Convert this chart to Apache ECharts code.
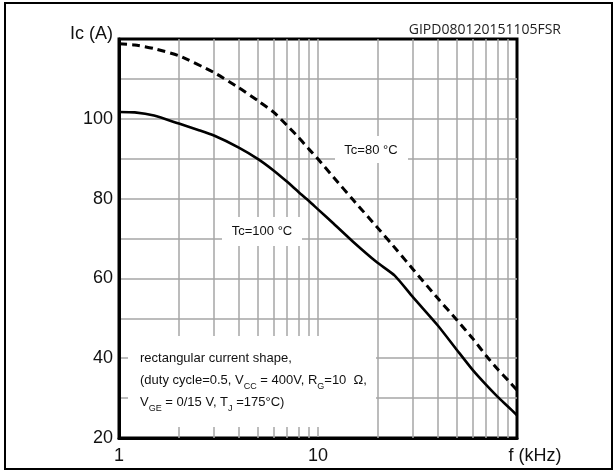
<!DOCTYPE html>
<html><head><meta charset="utf-8">
<script src="https://cdn.jsdelivr.net/npm/echarts@6/dist/echarts.min.js"></script>
<style>html,body{margin:0;padding:0;background:#fff}#c{width:614px;height:471px}</style>
</head><body><div id="c"></div>
<script>
// ---- data ----
const freqSolid = [1, 1.2, 1.5, 2, 2.5, 3, 4, 5, 6, 7, 8, 9, 10, 12, 15, 19.7, 24.3, 30, 40, 50, 60, 70, 80, 90, 100];
const icSolid   = [101.7, 101.6, 100.8, 98.8, 97.2, 95.8, 92.8, 89.9, 87, 84.2, 81.6, 79.4, 77.3, 73.7, 69.2, 64.1, 60.7, 55.3, 48.2, 42, 37, 33.3, 30.3, 27.9, 25.7];
const freqDashed = [1, 1.2, 1.5, 2, 3, 4, 5, 6, 7, 8, 9, 10, 12, 15, 20, 25, 30, 40, 50, 60, 70, 80, 90, 100];
const icDashed   = [118.8, 118.5, 117.6, 115.8, 111.6, 107.8, 104.5, 101.6, 98.3, 95.3, 92.4, 89.9, 85.3, 79.7, 72.6, 67.0, 62.3, 55.0, 49.5, 44.9, 40.6, 37.2, 34.5, 32];
const minorFreqs = [2, 3, 4, 5, 6, 7, 8, 9, 20, 30, 40, 50, 60, 70, 80, 90];
const xTickLabels = {1: '1', 10: '10', 100: 'f (kHz)'};
const yTickLabels = {20: '20', 40: '40', 60: '60', 80: '80', 100: '100', 120: 'Ic (A)'};
const seriesNames = ['Tc=100 °C', 'Tc=80 °C'];
const codeText = 'GIPD080120151105FSR';
const noteLines = ['rectangular current shape,', '(duty cycle=0.5, V', 'CC', ' = 400V, R', 'G', '=10  Ω,', 'V', 'GE', ' = 0/15 V, T', 'J', ' =175°C)'];

const FONT = "'Liberation Sans', Arial, sans-serif";
const GRID = '#a6a6a6';

const zip = (a, b) => a.map((v, i) => [v, b[i]]);

const chart = echarts.init(document.getElementById('c'), null, {renderer: 'canvas'});
chart.setOption({
  animation: false,
  backgroundColor: '#fff',
  title: {
    text: codeText, right: 48, top: 18,
    textStyle: {fontFamily: "'Open Sans', sans-serif", fontSize: 14, fontWeight: 'normal', color: '#222'}
  },
  grid: {left: 119, right: 97, top: 39, bottom: 33, show: true, borderColor: '#000', borderWidth: 3, backgroundColor: 'transparent'},
  xAxis: {
    type: 'log', logBase: 10, min: 1, max: 100,
    axisLine: {show: true, onZero: false, lineStyle: {color: '#000', width: 3}},
    axisTick: {show: false},
    axisLabel: {
      margin: 9, fontFamily: FONT, fontSize: 18, color: '#111',
      formatter: v => {
        const k = Math.round(v);
        if (k === 100) return '{r|' + xTickLabels[k] + '}';
        return xTickLabels[k] || '';
      },
      rich: {r: {fontFamily: FONT, fontSize: 18, color: '#111', padding: [0, 0, 0, 36]}}
    },
    splitLine: {show: true, showMinLine: false, showMaxLine: false, lineStyle: {color: GRID, width: 1.5}}
  },
  yAxis: {
    type: 'value', min: 20, max: 120, interval: 10,
    axisLine: {show: true, onZero: false, lineStyle: {color: '#000', width: 3}},
    axisTick: {show: false},
    axisLabel: {
      margin: 6, fontFamily: FONT, fontSize: 18, color: '#111',
      formatter: v => {
        if (v === 120) return '{n|' + yTickLabels[v] + '}';
        return yTickLabels[v] || '';
      },
      rich: {n: {fontFamily: FONT, fontSize: 18, color: '#111', padding: [0, 0, 10, 0]}}
    },
    splitLine: {show: true, showMinLine: false, showMaxLine: false, lineStyle: {color: GRID, width: 1.5}}
  },
  series: [
    {
      type: 'line', name: 'grid', data: [], z: 1, silent: true,
      markLine: {
        silent: true, symbol: ['none', 'none'], animation: false,
        label: {show: false},
        lineStyle: {color: GRID, width: 1.5, type: 'solid'},
        data: minorFreqs.map(f => ({xAxis: f}))
      }
    },
    {
      type: 'line', name: seriesNames[0], data: zip(freqSolid, icSolid), z: 5,
      showSymbol: false, smooth: 0.2,
      lineStyle: {color: '#000', width: 2.6}
    },
    {
      type: 'line', name: seriesNames[1], data: zip(freqDashed, icDashed), z: 5,
      showSymbol: false, smooth: 0.2,
      lineStyle: {color: '#000', width: 3, type: [8, 5], cap: 'butt'}
    }
  ],
  graphic: [
    {type: 'rect', zlevel: 1, z: 3, shape: {x: 335, y: 136, width: 73, height: 27}, style: {fill: '#fff'}},
    {type: 'text', zlevel: 1, z: 4, x: 371, y: 150, style: {text: seriesNames[1], fontFamily: FONT, fontSize: 13, fill: '#111', textAlign: 'center', textVerticalAlign: 'middle'}},
    {type: 'rect', zlevel: 1, z: 3, shape: {x: 222, y: 217, width: 80, height: 29}, style: {fill: '#fff'}},
    {type: 'text', zlevel: 1, z: 4, x: 262, y: 231, style: {text: seriesNames[0], fontFamily: FONT, fontSize: 13, fill: '#111', textAlign: 'center', textVerticalAlign: 'middle'}},
    {type: 'rect', zlevel: 1, z: 3, shape: {x: 128, y: 336, width: 248, height: 91}, style: {fill: '#fff'}},
    {type: 'text', zlevel: 1, z: 4, x: 140, y: 347, style: {
      text: '{t|' + noteLines[0] + '}\n{t|' + noteLines[1] + '}{s|' + noteLines[2] + '}{t|' + noteLines[3] + '}{s|' + noteLines[4] + '}{t|' + noteLines[5] + '}\n{t|' + noteLines[6] + '}{s|' + noteLines[7] + '}{t|' + noteLines[8] + '}{s|' + noteLines[9] + '}{t|' + noteLines[10] + '}',
      textVerticalAlign: 'top', textAlign: 'left',
      rich: {
        t: {fontFamily: FONT, fontSize: 13, fill: '#111', lineHeight: 22, verticalAlign: 'middle'},
        s: {fontFamily: FONT, fontSize: 9, fill: '#111', lineHeight: 13, verticalAlign: 'bottom'}
      }
    }},
    {type: 'rect', zlevel: 1, z: 10, shape: {x: 5, y: 3, width: 607, height: 466}, style: {fill: 'none', stroke: '#000', lineWidth: 2}}
  ]
});
</script>
</body></html>
